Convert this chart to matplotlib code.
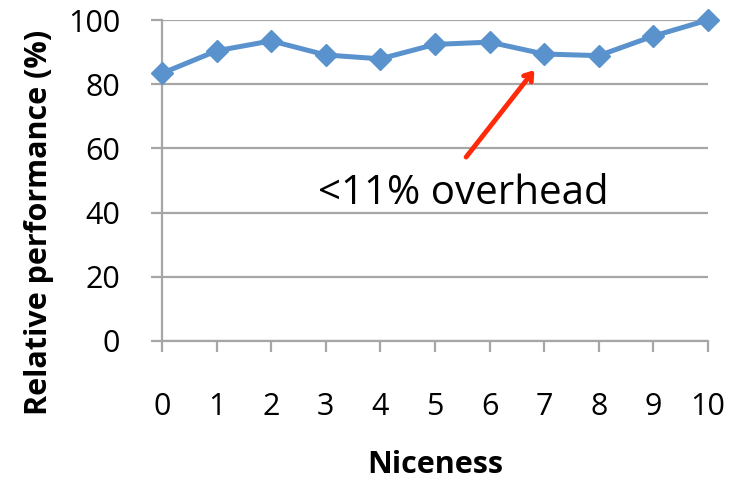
import matplotlib
matplotlib.use('Agg')
import matplotlib.pyplot as plt
import numpy as np

# values
niceness = list(range(11))
rel_perf = [83.4, 90.4, 93.5, 89.1, 87.9, 92.4, 93.1, 89.4, 88.9, 95.0, 100.0]
y_ticks = [0, 20, 40, 60, 80, 100]

plt.rcParams['font.family'] = ['Open Sans', 'DejaVu Sans']

fig = plt.figure(figsize=(7.45, 4.8), dpi=100)
ax = fig.add_axes([162/745, 1-341/480, (708-162)/745, (341-20)/480])

grid_c = '#A6A6A6'
ax.set_ylim(0, 100)
ax.set_xlim(0, 10)
ax.set_yticks(y_ticks)
ax.set_xticks(niceness)
ax.yaxis.grid(True, color=grid_c, lw=1.6)
ax.set_axisbelow(True)
for s in ['top', 'right']:
    ax.spines[s].set_visible(False)
for s in ['left', 'bottom']:
    ax.spines[s].set_color(grid_c)
    ax.spines[s].set_linewidth(1.6)
ax.tick_params(axis='both', colors=grid_c, width=1.6, length=8, labelcolor='black',
               labelsize=22)
ax.tick_params(axis='x', pad=29)
ax.tick_params(axis='y', pad=22)

ax.plot(niceness, rel_perf, color='#5A92CD', lw=3.6, marker='D', ms=11,
        clip_on=False, zorder=3)

ax.annotate('', xy=(6.82, 84.4), xytext=(5.57, 57.3),
            arrowprops=dict(arrowstyle='->,head_length=0.5,head_width=0.35',
                            color='#FF2A0A', lw=3.5, shrinkA=0, shrinkB=0))
ax.text(5.52, 46.0, '<11% overhead', fontsize=29, ha='center', va='center')

ax.set_xlabel('Niceness', fontsize=22, fontweight='bold')
ax.xaxis.set_label_coords(0.5, (341-450)/321)
ax.set_ylabel('Relative performance (%)', fontsize=22, fontweight='bold')
ax.yaxis.set_label_coords((54-162)/546, (341-222)/321)

fig.savefig('out.png', dpi=100)
